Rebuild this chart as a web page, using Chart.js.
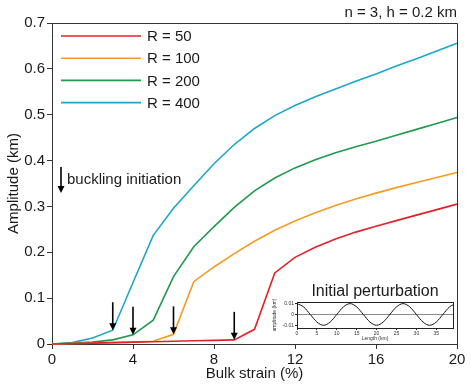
<!DOCTYPE html>
<html>
<head>
<meta charset="utf-8">
<title>Amplitude vs bulk strain</title>
<script src="https://cdn.jsdelivr.net/npm/chart.js"></script>
<style>
  body { margin: 0; background: #fff; }
  #wrap { position: relative; width: 471px; height: 388px; }
  #inset { position: absolute; left: 268px; top: 298px; }
</style>
</head>
<body>
<div id="wrap">
  <canvas id="main" width="471" height="388"></canvas>
  <canvas id="inset" width="190" height="46"></canvas>
</div>
<script>
// bulk strain (%)
const strain = [0,1,2,3,4,5,6,7,8,9,10,11,12,13,14,15,16,17,18,19,20];
// amplitude (km) per viscosity ratio
const ampR50  = [0,0.001,0.002,0.003,0.004,0.005,0.006,0.007,0.008,0.009,0.032,0.155,0.189,0.211,0.229,0.244,0.257,0.269,0.281,0.293,0.305];
const ampR100 = [0,0.001,0.002,0.003,0.004,0.006,0.021,0.136,0.168,0.197,0.224,0.248,0.268,0.286,0.302,0.316,0.329,0.341,0.352,0.363,0.374];
const ampR200 = [0,0.002,0.004,0.009,0.02,0.052,0.147,0.212,0.256,0.298,0.334,0.362,0.384,0.402,0.417,0.43,0.442,0.455,0.468,0.481,0.494];
const ampR400 = [0,0.003,0.013,0.03,0.134,0.237,0.296,0.345,0.393,0.435,0.47,0.498,0.52,0.539,0.556,0.573,0.589,0.606,0.622,0.639,0.656];
const seriesLabels = ['R = 50','R = 100','R = 200','R = 400'];
const seriesColors = ['#e3202b','#f59a23','#1f9a4c','#1ea6c8'];
// buckling initiation arrows: strain and which series
const arrowStrain = [3, 4, 6, 9];
const arrowSeries = [3, 2, 1, 0];
const xTicks = [0,4,8,12,16,20];
const yTicks = [0,0.1,0.2,0.3,0.4,0.5,0.6,0.7];

// inset: initial perturbation
const insetLength = [0,1.667,3.333,5,6.667,8.333,10,11.667,13.333,15,16.667,18.333,20,21.667,23.333,25,26.667,28.333,30,31.667,33.333,35,36.667,38.333,40];
const insetAmp = [0.01,0.007,0,-0.007,-0.01,-0.007,0,0.007,0.01,0.007,0,-0.007,-0.01,-0.007,0,0.007,0.01,0.007,0,-0.007,-0.01,-0.007,0,0.007,0.01];
const insetXTicks = [0,5,10,15,20,25,30,35];
const insetYTicks = [-0.01,0,0.01];

const FONT = '"Liberation Sans", Arial, sans-serif';
const TXT = '#1a1a1a';
Chart.defaults.font.family = FONT;
Chart.defaults.color = TXT;

const allAmp = [ampR50, ampR100, ampR200, ampR400];
const datasets = allAmp.map((a, i) => ({
  label: seriesLabels[i],
  data: strain.map((s, j) => ({x: s, y: a[j]})),
  borderColor: seriesColors[i],
  borderWidth: 1.6,
  pointRadius: 0,
  tension: 0,
  clip: false
}));

const extras = {
  id: 'extras',
  afterDatasetsDraw(chart) {
    const {ctx, chartArea: a, scales: {x, y}} = chart;
    ctx.save();
    // frame top/right
    ctx.strokeStyle = '#333';
    ctx.lineWidth = 1;
    ctx.beginPath();
    ctx.moveTo(a.left, a.top + 0.5);
    ctx.lineTo(a.right + 0.5, a.top + 0.5);
    ctx.lineTo(a.right + 0.5, a.bottom);
    ctx.stroke();

    // legend
    ctx.font = '15px ' + FONT;
    ctx.textBaseline = 'middle';
    ctx.textAlign = 'left';
    chart.data.datasets.forEach((d, i) => {
      const ly = 36 + i * 22.2;
      ctx.strokeStyle = d.borderColor;
      ctx.lineWidth = 1.6;
      ctx.beginPath();
      ctx.moveTo(61, ly);
      ctx.lineTo(141, ly);
      ctx.stroke();
      ctx.fillStyle = TXT;
      ctx.fillText(d.label, 147, ly + 1);
    });

    function arrow(px, tipY, len) {
      ctx.strokeStyle = '#000';
      ctx.fillStyle = '#000';
      ctx.lineWidth = 1.6;
      ctx.beginPath();
      ctx.moveTo(px, tipY - len);
      ctx.lineTo(px, tipY - 5);
      ctx.stroke();
      ctx.beginPath();
      ctx.moveTo(px - 3.5, tipY - 7);
      ctx.lineTo(px + 3.5, tipY - 7);
      ctx.lineTo(px, tipY);
      ctx.closePath();
      ctx.fill();
    }
    arrowStrain.forEach((s, i) => {
      const arr = allAmp[arrowSeries[i]];
      const v = arr[strain.indexOf(s)];
      arrow(x.getPixelForValue(s), y.getPixelForValue(v), 28);
    });
    // key arrow
    arrow(61, 193, 26);
    ctx.fillStyle = TXT;
    ctx.textAlign = 'left';
    ctx.fillText('buckling initiation', 67, 180);

    // top-right note
    ctx.textAlign = 'right';
    ctx.fillText('n = 3, h = 0.2 km', a.right, 13);

    // inset title
    ctx.font = '16px ' + FONT;
    ctx.textAlign = 'center';
    ctx.fillText('Initial perturbation', 375, 292);
    ctx.restore();
  }
};

new Chart(document.getElementById('main'), {
  type: 'line',
  data: {datasets},
  options: {
    responsive: false,
    animation: false,
    devicePixelRatio: 1,
    layout: {padding: {top: 23, right: 14, left: 0, bottom: 0}},
    plugins: {legend: {display: false}, tooltip: {enabled: false}},
    scales: {
      x: {
        type: 'linear', min: 0, max: 20,
        afterBuildTicks(s) { s.ticks = xTicks.map(v => ({value: v})); },
        ticks: {font: {size: 15}, color: TXT, padding: 2, maxRotation: 0},
        grid: {drawOnChartArea: false, tickLength: 5, tickColor: '#333'},
        border: {color: '#333', width: 1},
        title: {display: true, text: 'Bulk strain (%)', font: {size: 15}, color: TXT, padding: {top: 0, bottom: 5}},
        afterFit(s) { s.height = 44; }
      },
      y: {
        type: 'linear', min: 0, max: 0.7,
        afterBuildTicks(s) { s.ticks = yTicks.map(v => ({value: v})); },
        ticks: {font: {size: 15}, color: TXT, padding: 2},
        grid: {drawOnChartArea: false, tickLength: 5, tickColor: '#333'},
        border: {color: '#333', width: 1},
        title: {display: true, text: 'Amplitude (km)', font: {size: 15}, color: TXT, padding: {top: 5, bottom: 0}},
        afterFit(s) { s.width = 52; }
      }
    }
  },
  plugins: [extras]
});

const insetFrame = {
  id: 'insetFrame',
  afterDraw(chart) {
    const {ctx, chartArea: a} = chart;
    ctx.save();
    ctx.strokeStyle = '#222';
    ctx.lineWidth = 1;
    ctx.strokeRect(a.left + 0.5, a.top + 0.5, a.right - a.left, a.bottom - a.top);
    ctx.restore();
  }
};

new Chart(document.getElementById('inset'), {
  type: 'line',
  data: {
    datasets: [{
      data: insetLength.map((l, i) => ({x: l, y: insetAmp[i]})),
      borderColor: '#111',
      borderWidth: 1,
      pointRadius: 0,
      cubicInterpolationMode: 'monotone'
    }]
  },
  options: {
    responsive: false,
    animation: false,
    devicePixelRatio: 1,
    layout: {padding: {top: 4, right: 5, left: 0, bottom: 0}},
    plugins: {legend: {display: false}, tooltip: {enabled: false}},
    scales: {
      x: {
        type: 'linear', min: 0, max: 39.2,
        afterBuildTicks(s) { s.ticks = insetXTicks.map(v => ({value: v})); },
        ticks: {font: {size: 5}, color: '#333', padding: 1, maxRotation: 0},
        grid: {drawOnChartArea: false, tickLength: 2, tickColor: '#222'},
        border: {color: '#222'},
        title: {display: true, text: 'Length (km)', font: {size: 5}, color: '#333', padding: {top: 0, bottom: 2}},
        afterFit(s) { s.height = 16; }
      },
      y: {
        type: 'linear', min: -0.0125, max: 0.0115,
        afterBuildTicks(s) { s.ticks = insetYTicks.map(v => ({value: v})); },
        ticks: {font: {size: 5}, color: '#333', padding: 1},
        grid: {
          color: c => (c.tick && c.tick.value === 0) ? '#8a8a8a' : 'rgba(0,0,0,0)',
          lineWidth: 1, tickLength: 2, tickColor: '#222'
        },
        border: {color: '#222'},
        title: {display: true, text: 'amplitude (km)', font: {size: 5}, color: '#333', padding: {top: 4, bottom: 0}},
        afterFit(s) { s.width = 29; }
      }
    }
  },
  plugins: [insetFrame]
});
</script>
</body>
</html>
